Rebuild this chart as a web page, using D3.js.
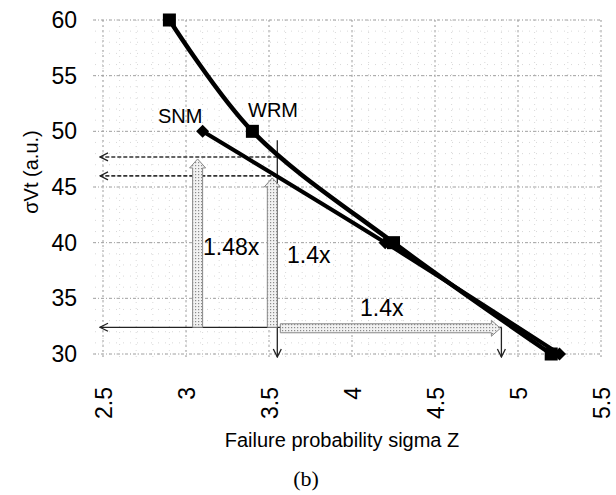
<!DOCTYPE html>
<html>
<head>
<meta charset="utf-8">
<script src="https://cdn.jsdelivr.net/npm/d3@7"></script>
<style>
  html, body { margin: 0; padding: 0; background: #fff; }
  svg { display: block; font-family: "Liberation Sans", Arial, sans-serif; }
</style>
</head>
<body>
<svg id="chart" width="616" height="495"></svg>
<script>
// Failure probability (sigma Z) needed for each sigma-Vt level
const wrmZ = [2.9, 3.4, 4.25, 5.2];
const wrmSigma = [60, 50, 40, 30];
const snmZ = [3.1, 4.2, 5.25];
const snmSigma = [50, 40, 30];

const xTicks = [2.5, 3, 3.5, 4, 4.5, 5, 5.5];
const yTicks = [30, 35, 40, 45, 50, 55, 60];

// Ratio annotations: baseline sigma, reached sigma, and Z ratio
const baseSigma = 32.4;
const wrmReach = 47.7;
const snmReach = 46.0;
const baseZ = 3.55;
const scaledZ = 4.9;
const upArrowZ = [3.07, 3.52];
const upArrowTop = [wrmReach, snmReach];
const ratioLabels = ["1.48x", "1.4x", "1.4x"];

const svg = d3.select("#chart");
const x = d3.scaleLinear().domain([2.5, 5.5]).range([103, 601]);
const y = d3.scaleLinear().domain([30, 60]).range([354, 20]);

// dotted hatch used by the block arrows
const defs = svg.append("defs");
const pat = defs.append("pattern").attr("id", "hatch")
  .attr("width", 3).attr("height", 3).attr("patternUnits", "userSpaceOnUse");
pat.append("rect").attr("width", 3).attr("height", 3).attr("fill", "#f2f2f2");
pat.append("rect").attr("width", 1.2).attr("height", 1.2).attr("fill", "#8a8a8a");

// grid: faint minor lines, dotted major lines
const grid = svg.append("g");
const xMinor = d3.range(25, 56).map(d => d / 10);
const yMinor = d3.range(30, 61);
grid.selectAll(".vmin").data(xMinor).join("line")
  .attr("x1", d => x(d)).attr("x2", d => x(d))
  .attr("y1", y(60)).attr("y2", y(30) + 4)
  .attr("stroke", "#bbb").attr("stroke-width", 1)
  .attr("stroke-dasharray", "1,5").attr("opacity", 0.55);
grid.selectAll(".hmin").data(yMinor).join("line")
  .attr("x1", x(2.5) - 8).attr("x2", x(5.5))
  .attr("y1", d => y(d)).attr("y2", d => y(d))
  .attr("stroke", "#bbb").attr("stroke-width", 1)
  .attr("stroke-dasharray", "1,6").attr("opacity", 0.55);
grid.selectAll(".vmaj").data(xTicks).join("line")
  .attr("x1", d => x(d)).attr("x2", d => x(d))
  .attr("y1", y(60)).attr("y2", y(30) + 6)
  .attr("stroke", "#a0a0a0").attr("stroke-width", 1)
  .attr("stroke-dasharray", "2,3");
grid.selectAll(".hmaj").data(yTicks).join("line")
  .attr("x1", x(2.5) - 10).attr("x2", x(5.5))
  .attr("y1", d => y(d)).attr("y2", d => y(d))
  .attr("stroke", "#a0a0a0").attr("stroke-width", 1)
  .attr("stroke-dasharray", "3,2,1,2");

// axes (labels only)
const yAxis = svg.append("g").attr("transform", "translate(81,0)")
  .call(d3.axisLeft(y).tickValues(yTicks).tickSize(0).tickPadding(4));
yAxis.select(".domain").remove();
yAxis.selectAll("text").attr("font-size", 23).attr("fill", "#000")
  .attr("font-family", "'Liberation Sans', Arial, sans-serif");

const xAxis = svg.append("g").attr("transform", `translate(0,${y(30) + 33})`)
  .call(d3.axisBottom(x).tickValues(xTicks).tickSize(0).tickFormat(d3.format("")));
xAxis.select(".domain").remove();
xAxis.selectAll("text")
  .attr("font-size", 23).attr("fill", "#000")
  .attr("font-family", "'Liberation Sans', Arial, sans-serif")
  .attr("transform", "rotate(-90)")
  .attr("text-anchor", "end").attr("dy", "0.36em").attr("x", 0).attr("y", 0);

// axis titles
svg.append("text").attr("transform", "translate(38,172) rotate(-90)")
  .attr("text-anchor", "middle").attr("font-size", 20).text("σVt (a.u.)");
svg.append("text").attr("x", 342).attr("y", 447)
  .attr("text-anchor", "middle").attr("font-size", 20).text("Failure probability sigma Z");
svg.append("text").attr("x", 306).attr("y", 486)
  .attr("text-anchor", "middle").attr("font-size", 22)
  .attr("font-family", "'Liberation Serif', 'Times New Roman', serif").text("(b)");

// open arrowheads for thin annotation lines
defs.append("marker").attr("id", "open").attr("viewBox", "0 0 10 10")
  .attr("refX", 9).attr("refY", 5).attr("markerWidth", 10).attr("markerHeight", 10)
  .attr("markerUnits", "userSpaceOnUse").attr("orient", "auto")
  .append("path").attr("d", "M1,1 L9,5 L1,9").attr("fill", "none")
  .attr("stroke", "#222").attr("stroke-width", 1.3);

const ann = svg.append("g");
// dashed lines back to the sigma axis
[wrmReach, snmReach].forEach(v => {
  ann.append("line")
    .attr("x1", x(baseZ)).attr("x2", x(2.5) - 3)
    .attr("y1", y(v)).attr("y2", y(v))
    .attr("stroke", "#333").attr("stroke-width", 1.6)
    .attr("stroke-dasharray", "4,2").attr("marker-end", "url(#open)");
});
// baseline to sigma axis
ann.append("line")
  .attr("x1", x(scaledZ)).attr("x2", x(2.5) - 3)
  .attr("y1", y(baseSigma)).attr("y2", y(baseSigma))
  .attr("stroke", "#222").attr("stroke-width", 1.3).attr("marker-end", "url(#open)");
// drop lines to Z axis
ann.append("line")
  .attr("x1", x(baseZ)).attr("x2", x(baseZ))
  .attr("y1", y(49.2)).attr("y2", y(30) + 3)
  .attr("stroke", "#222").attr("stroke-width", 1.3).attr("marker-end", "url(#open)");
ann.append("line")
  .attr("x1", x(scaledZ)).attr("x2", x(scaledZ))
  .attr("y1", y(baseSigma)).attr("y2", y(30) + 3)
  .attr("stroke", "#222").attr("stroke-width", 1.3).attr("marker-end", "url(#open)");

// block arrows
function blockUp(cx, yBottom, yTip) {
  const s = 5, h = 8, head = 9;
  return `M${cx - s},${yBottom} L${cx - s},${yTip + head} L${cx - h},${yTip + head} L${cx},${yTip}` +
    ` L${cx + h},${yTip + head} L${cx + s},${yTip + head} L${cx + s},${yBottom} Z`;
}
function blockRight(xStart, yc, xTip) {
  const s = 4.5, h = 8, head = 9;
  return `M${xStart},${yc - s} L${xTip - head},${yc - s} L${xTip - head},${yc - h} L${xTip},${yc}` +
    ` L${xTip - head},${yc + h} L${xTip - head},${yc + s} L${xStart},${yc + s} Z`;
}
upArrowZ.forEach((z, i) => {
  ann.append("path").attr("d", blockUp(x(z), y(baseSigma), y(upArrowTop[i]) + 2))
    .attr("fill", "url(#hatch)").attr("stroke", "#888").attr("stroke-width", 1);
});
ann.append("path").attr("d", blockRight(x(baseZ) + 3, y(baseSigma) + 1, x(scaledZ) - 1))
  .attr("fill", "url(#hatch)").attr("stroke", "#888").attr("stroke-width", 1);

// ratio labels
const labelPos = [[203, 255], [287, 263], [360, 316]];
ratioLabels.forEach((t, i) => {
  ann.append("text").attr("x", labelPos[i][0]).attr("y", labelPos[i][1])
    .attr("font-size", 23).text(t);
});

// series lines
const line = d3.line().curve(d3.curveCatmullRom.alpha(0.5));
const wrmPts = wrmZ.map((z, i) => [x(z), y(wrmSigma[i])]);
const snmPts = snmZ.map((z, i) => [x(z), y(snmSigma[i])]);
svg.append("path").attr("d", line(snmPts)).attr("fill", "none")
  .attr("stroke", "#000").attr("stroke-width", 4);
svg.append("path").attr("d", line(wrmPts)).attr("fill", "none")
  .attr("stroke", "#000").attr("stroke-width", 4.5);

// markers
svg.selectAll(".wrm").data(wrmPts).join("rect")
  .attr("x", d => d[0] - 6.5).attr("y", d => d[1] - 6.5)
  .attr("width", 13).attr("height", 13).attr("fill", "#000");
svg.selectAll(".snm").data(snmPts).join("path")
  .attr("d", d => `M${d[0]},${d[1] - 6.5} L${d[0] + 6.5},${d[1]} L${d[0]},${d[1] + 6.5} L${d[0] - 6.5},${d[1]} Z`)
  .attr("fill", "#000");

// series names
svg.append("text").attr("x", 158).attr("y", 123).attr("font-size", 20).text("SNM");
svg.append("text").attr("x", 248).attr("y", 117).attr("font-size", 20).text("WRM");
</script>
</body>
</html>
